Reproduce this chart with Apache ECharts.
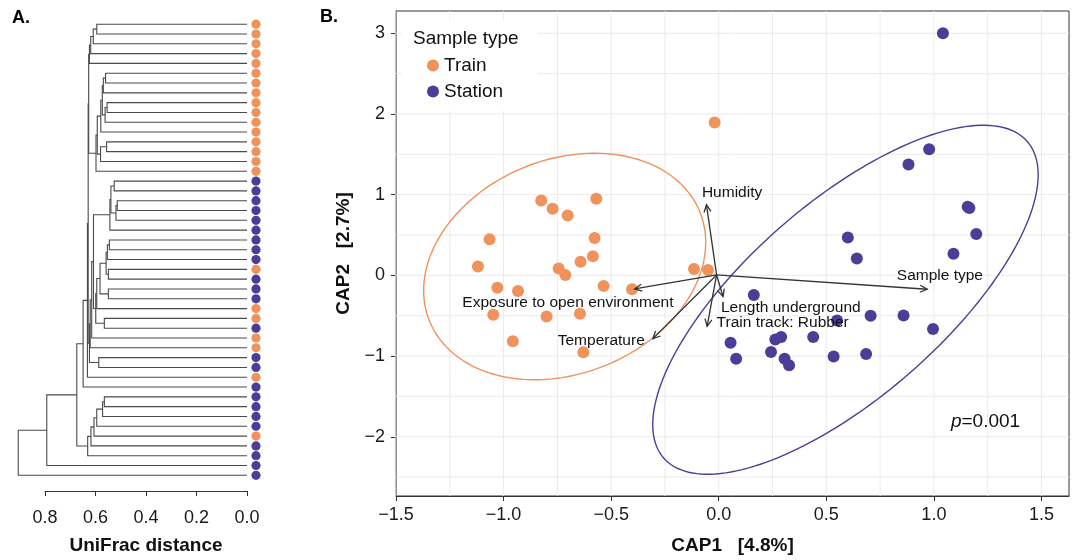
<!DOCTYPE html>
<html>
<head>
<meta charset="utf-8">
<script src="https://cdn.jsdelivr.net/npm/echarts@6/dist/echarts.min.js"></script>
<style>
  html, body { margin: 0; padding: 0; background: #fff; }
  #chart { width: 1078px; height: 560px; }
</style>
</head>
<body>
<div id="chart"></div>
<script>
// ---- panel A : UniFrac dendrogram (hclust style merges, -k = leaf k) ----
const mergeA = [-1, 1, 2, 3, -6, 5, -9, 7, 6, 9, -13, 11, 10, 13, 4,
  -17, -19, 17, 16, 19, -23, 21, -26, 22, -28, 24, 26, -31, 27, 20, 30, 31, -35, 32, 15, 35, 36,
  -39, 38, 39, 40, 41, 42, 37, 44, 45];
const mergeB = [-2, -3, -4, -5, -7, -8, -10, -11, 8, -12, -14, -15, 12, -16, 14,
  -18, -20, -21, 18, -22, -24, -25, -27, 23, -29, 25, -30, -32, 28, 29, -33, -34, -36, 33, 34, -37, -38,
  -40, -41, -42, -43, -44, -45, 43, -46, -47];
const mergeHeight = [0.595, 0.609, 0.619, 0.624, 0.560, 0.569, 0.554, 0.562, 0.573, 0.579, 0.556, 0.580, 0.593, 0.598, 0.627,
  0.526, 0.514, 0.519, 0.539, 0.543, 0.545, 0.553, 0.549, 0.558, 0.549, 0.582, 0.595, 0.565, 0.599, 0.608, 0.615, 0.621, 0.587, 0.624, 0.629, 0.632, 0.649,
  0.565, 0.572, 0.595, 0.606, 0.618, 0.631, 0.674, 0.793, 0.906];
// leaf sample type, top to bottom (T = Train, S = Station)
const leafType = ['T','T','T','T','T','T','T','T','T','T','T','T','T','T','T','T',
  'S','S','S','S','S','S','S','S','S','T','S','S','S','T','T','S','T','T','S','S','T',
  'S','S','S','S','S','T','S','S','S','S'];

// ---- panel B : CAP ordination ----
const trainX = [-0.825, -0.772, -0.702, -0.569, -1.065, -0.577, -1.119, -0.744, -0.713, -0.642, -0.585, -1.029,
  -0.933, -0.535, -0.403, -0.115, -0.050, -1.048, -0.800, -0.645, -0.957, -0.629, -0.019];
const trainY = [0.927, 0.825, 0.743, 0.948, 0.447, 0.464, 0.111, 0.086, 0.004, 0.168, 0.238, -0.152,
  -0.193, -0.131, -0.172, 0.078, 0.066, -0.489, -0.509, -0.476, -0.817, -0.952, 1.893];
const stationX = [1.042, 0.978, 0.882, 1.157, 1.165, 1.197, 1.091, 0.600, 0.642, 0.163, 0.550, 0.706,
  0.859, 0.996, 0.055, 0.081, 0.263, 0.290, 0.439, 0.243, 0.306, 0.327, 0.534, 0.685];
const stationY = [3.000, 1.564, 1.375, 0.850, 0.835, 0.513, 0.267, 0.468, 0.209, -0.242, -0.560, -0.500,
  -0.497, -0.665, -0.835, -1.034, -0.796, -0.764, -0.764, -0.950, -1.034, -1.113, -1.006, -0.973];

// 95% ellipses: centre and two conjugate semi-axes (Train, Station)
const ellCx = [-0.716, 0.589];
const ellCy = [0.110, -0.302];
const ellUx = [0.627, 0.844];
const ellUy = [0.685, 1.964];
const ellVx = [0.191, 0.300];
const ellVy = [-1.225, -0.905];

// environmental vectors
const vecNames = ['Humidity', 'Sample type', 'Exposure to open environment', 'Temperature', 'Length underground', 'Train track: Rubber'];
const vecX = [-0.057, 0.969, -0.391, -0.306, 0.020, -0.054];
const vecY = [0.874, -0.172, -0.168, -0.784, -0.262, -0.632];
const vecLabelX = [0.062, 1.028, -0.701, -0.546, 0.335, 0.297];
const vecLabelY = [1.030, -0.008, -0.345, -0.809, -0.406, -0.583];

const capXTicks = [-1.5, -1, -0.5, 0, 0.5, 1, 1.5];
const capYTicks = [-2, -1, 0, 1, 2, 3];
const capXGrid = [-1.5, -1.25, -1, -0.75, -0.5, -0.25, 0, 0.25, 0.5, 0.75, 1, 1.25, 1.5];
const capYGrid = [-2.5, -2, -1.5, -1, -0.5, 0, 0.5, 1, 1.5, 2, 2.5, 3];

const colTrain = '#F0925C';
const colStation = '#4E3D97';
const FONT = 'Liberation Sans, Arial, Helvetica, sans-serif';

const X_MIN = -1.5, X_MAX = 1.628, Y_MIN = -2.734, Y_MAX = 3.276;

document.addEventListener('DOMContentLoaded', function () {
    const chart = echarts.init(document.getElementById('chart'));

    // dendrogram segments
    const nodeY = [], nodeH = [];
    function ref(r) {
        return r < 0 ? { y: -r - 1, h: 0 } : { y: nodeY[r - 1], h: nodeH[r - 1] };
    }
    const dendroSegs = [];
    for (let k = 0; k < mergeHeight.length; k++) {
        const a = ref(mergeA[k]), b = ref(mergeB[k]);
        nodeY[k] = (a.y + b.y) / 2;
        nodeH[k] = mergeHeight[k];
        dendroSegs.push([a.h, a.y, mergeHeight[k], b.y, b.h]);
    }
    const leafDots = leafType.map((t, i) => [0, i, t === 'T' ? 0 : 1]);

    const gridLines = capXGrid.map(v => [0, v]).concat(capYGrid.map(v => [1, v]));
    const minus = v => (v < 0 ? '\u2212' : '') + Math.abs(v);

    const option = {
        animation: false,
        backgroundColor: '#fff',
        textStyle: { fontFamily: FONT },
        grid: [
            { left: 45, top: 14.37, width: 202, height: 482.63, show: false },
            { left: 396, top: 11, width: 673, height: 488, show: true, borderColor: '#333', borderWidth: 1, backgroundColor: 'transparent' }
        ],
        xAxis: [{
            gridIndex: 0, type: 'value', min: 0, max: 0.8, interval: 0.2, inverse: true,
            name: 'UniFrac distance', nameLocation: 'middle', nameGap: 45,
            nameTextStyle: { fontSize: 19, fontWeight: 'bold', color: '#111', fontFamily: FONT },
            axisLine: { show: true, onZero: false, lineStyle: { color: '#333', width: 1 } },
            axisTick: { show: true, length: 5, lineStyle: { color: '#333' } },
            axisLabel: { fontSize: 18, color: '#1a1a1a', margin: 18, formatter: v => v.toFixed(1) },
            splitLine: { show: false }
        }, {
            gridIndex: 1, type: 'value', min: X_MIN, max: X_MAX,
            name: 'CAP1   [4.8%]', nameLocation: 'middle', nameGap: 40,
            nameTextStyle: { fontSize: 19, fontWeight: 'bold', color: '#111', fontFamily: FONT },
            axisLine: { show: true, onZero: false, lineStyle: { color: '#333', width: 1 } },
            axisTick: { show: true, length: 5, customValues: capXTicks, lineStyle: { color: '#333' } },
            axisLabel: { fontSize: 18, color: '#1a1a1a', margin: 10, customValues: capXTicks,
                formatter: v => (v < 0 ? '\u2212' : '') + Math.abs(v).toFixed(1) },
            splitLine: { show: false }
        }],
        yAxis: [{
            gridIndex: 0, type: 'value', min: -1, max: 47.6, inverse: true, show: false
        }, {
            gridIndex: 1, type: 'value', min: Y_MIN, max: Y_MAX,
            name: 'CAP2   [2.7%]', nameLocation: 'middle', nameGap: 40, nameRotate: 90,
            nameTextStyle: { fontSize: 19, fontWeight: 'bold', color: '#111', fontFamily: FONT },
            axisLine: { show: true, onZero: false, lineStyle: { color: '#333', width: 1 } },
            axisTick: { show: true, length: 5, customValues: capYTicks, lineStyle: { color: '#333' } },
            axisLabel: { fontSize: 18, color: '#1a1a1a', margin: 11, customValues: capYTicks, formatter: minus },
            splitLine: { show: false }
        }],
        legend: {
            data: ['Train', 'Station'],
            orient: 'vertical', left: 427, top: 56, itemGap: 7, padding: 0,
            itemWidth: 12, itemHeight: 12, icon: 'circle', z: 6,
            textStyle: { fontSize: 19, color: '#111', fontFamily: FONT }
        },
        graphic: [
            { type: 'text', left: 12, top: 9, style: { text: 'A.', fontSize: 18, fontWeight: 'bold', fill: '#000', fontFamily: FONT } },
            { type: 'text', left: 320, top: 8, style: { text: 'B.', fontSize: 18, fontWeight: 'bold', fill: '#000', fontFamily: FONT } },
            { type: 'rect', shape: { x: 402, y: 20, width: 136, height: 91 }, style: { fill: '#fff' }, z: 3 },
            { type: 'text', left: 413, top: 29, z: 6, style: { text: 'Sample type', fontSize: 19, fill: '#111', fontFamily: FONT } }
        ],
        series: [
            {
                // dendrogram branches
                type: 'custom', xAxisIndex: 0, yAxisIndex: 0, data: dendroSegs, clip: false,
                renderItem: (params, api) => {
                    const p1 = api.coord([api.value(0), api.value(1)]);
                    const p2 = api.coord([api.value(2), api.value(1)]);
                    const p3 = api.coord([api.value(2), api.value(3)]);
                    const p4 = api.coord([api.value(4), api.value(3)]);
                    return { type: 'polyline', shape: { points: [p1, p2, p3, p4] },
                        style: { stroke: '#4a4a4a', lineWidth: 1.1, fill: null } };
                }
            },
            {
                // leaf markers
                type: 'custom', xAxisIndex: 0, yAxisIndex: 0, data: leafDots, clip: false,
                renderItem: (params, api) => {
                    const p = api.coord([api.value(0), api.value(1)]);
                    return { type: 'circle', shape: { cx: p[0] + 9, cy: p[1], r: 4.6 },
                        style: { fill: api.value(2) === 0 ? colTrain : colStation } };
                }
            },
            {
                // panel grid (major + minor)
                type: 'custom', xAxisIndex: 1, yAxisIndex: 1, data: gridLines, z: 1, silent: true,
                renderItem: (params, api) => {
                    const v = api.value(1);
                    const a = api.value(0) === 0 ? api.coord([v, Y_MIN]) : api.coord([X_MIN, v]);
                    const b = api.value(0) === 0 ? api.coord([v, Y_MAX]) : api.coord([X_MAX, v]);
                    return { type: 'line', shape: { x1: a[0], y1: a[1], x2: b[0], y2: b[1] },
                        style: { stroke: '#EBEBEB', lineWidth: 1 } };
                }
            },
            {
                name: 'Train', type: 'scatter', xAxisIndex: 1, yAxisIndex: 1, symbolSize: 12, z: 3,
                itemStyle: { color: colTrain, opacity: 1 },
                data: trainX.map((x, i) => [x, trainY[i]])
            },
            {
                name: 'Station', type: 'scatter', xAxisIndex: 1, yAxisIndex: 1, symbolSize: 12, z: 3,
                itemStyle: { color: colStation, opacity: 1 },
                data: stationX.map((x, i) => [x, stationY[i]])
            },
            {
                // ellipses
                type: 'custom', xAxisIndex: 1, yAxisIndex: 1, z: 4,
                data: ellCx.map((cx, i) => [cx, ellCy[i], ellUx[i], ellUy[i], ellVx[i], ellVy[i], i]),
                renderItem: (params, api) => {
                    const pts = [];
                    for (let k = 0; k <= 180; k++) {
                        const t = k / 180 * Math.PI * 2;
                        pts.push(api.coord([
                            api.value(0) + api.value(2) * Math.cos(t) + api.value(4) * Math.sin(t),
                            api.value(1) + api.value(3) * Math.cos(t) + api.value(5) * Math.sin(t)
                        ]));
                    }
                    return { type: 'polyline', shape: { points: pts },
                        style: { stroke: api.value(6) === 0 ? colTrain : colStation, lineWidth: 1.4, fill: null } };
                }
            },
            {
                // vectors
                type: 'custom', xAxisIndex: 1, yAxisIndex: 1, z: 5,
                data: vecX.map((x, i) => [-0.01, 0.005, x, vecY[i]]),
                renderItem: (params, api) => {
                    const s = api.coord([api.value(0), api.value(1)]);
                    const e = api.coord([api.value(2), api.value(3)]);
                    const ang = Math.atan2(e[1] - s[1], e[0] - s[0]);
                    const L = 8, w = 0.45;
                    const h1 = [e[0] - L * Math.cos(ang - w), e[1] - L * Math.sin(ang - w)];
                    const h2 = [e[0] - L * Math.cos(ang + w), e[1] - L * Math.sin(ang + w)];
                    const st = { stroke: '#333', lineWidth: 1.3, fill: null };
                    return { type: 'group', children: [
                        { type: 'line', shape: { x1: s[0], y1: s[1], x2: e[0], y2: e[1] }, style: st },
                        { type: 'polyline', shape: { points: [h1, e, h2] }, style: st }
                    ] };
                }
            },
            {
                // vector labels and p-value
                type: 'custom', xAxisIndex: 1, yAxisIndex: 1, z: 6,
                data: vecLabelX.map((x, i) => [x, vecLabelY[i]]).concat([[1.240, -1.810]]),
                renderItem: (params, api) => {
                    const p = api.coord([api.value(0), api.value(1)]);
                    const isP = params.dataIndex === vecNames.length;
                    return { type: 'text', x: p[0], y: p[1],
                        style: {
                            text: isP ? '{i|p}=0.001' : vecNames[params.dataIndex],
                            fontSize: isP ? 19 : 15.5, fill: '#111', fontFamily: FONT,
                            align: 'center', verticalAlign: 'middle',
                            rich: { i: { fontStyle: 'italic', fontSize: 19, fontFamily: FONT, fill: '#111' } }
                        } };
                }
            }
        ]
    };
    chart.setOption(option);
});
</script>
</body>
</html>
